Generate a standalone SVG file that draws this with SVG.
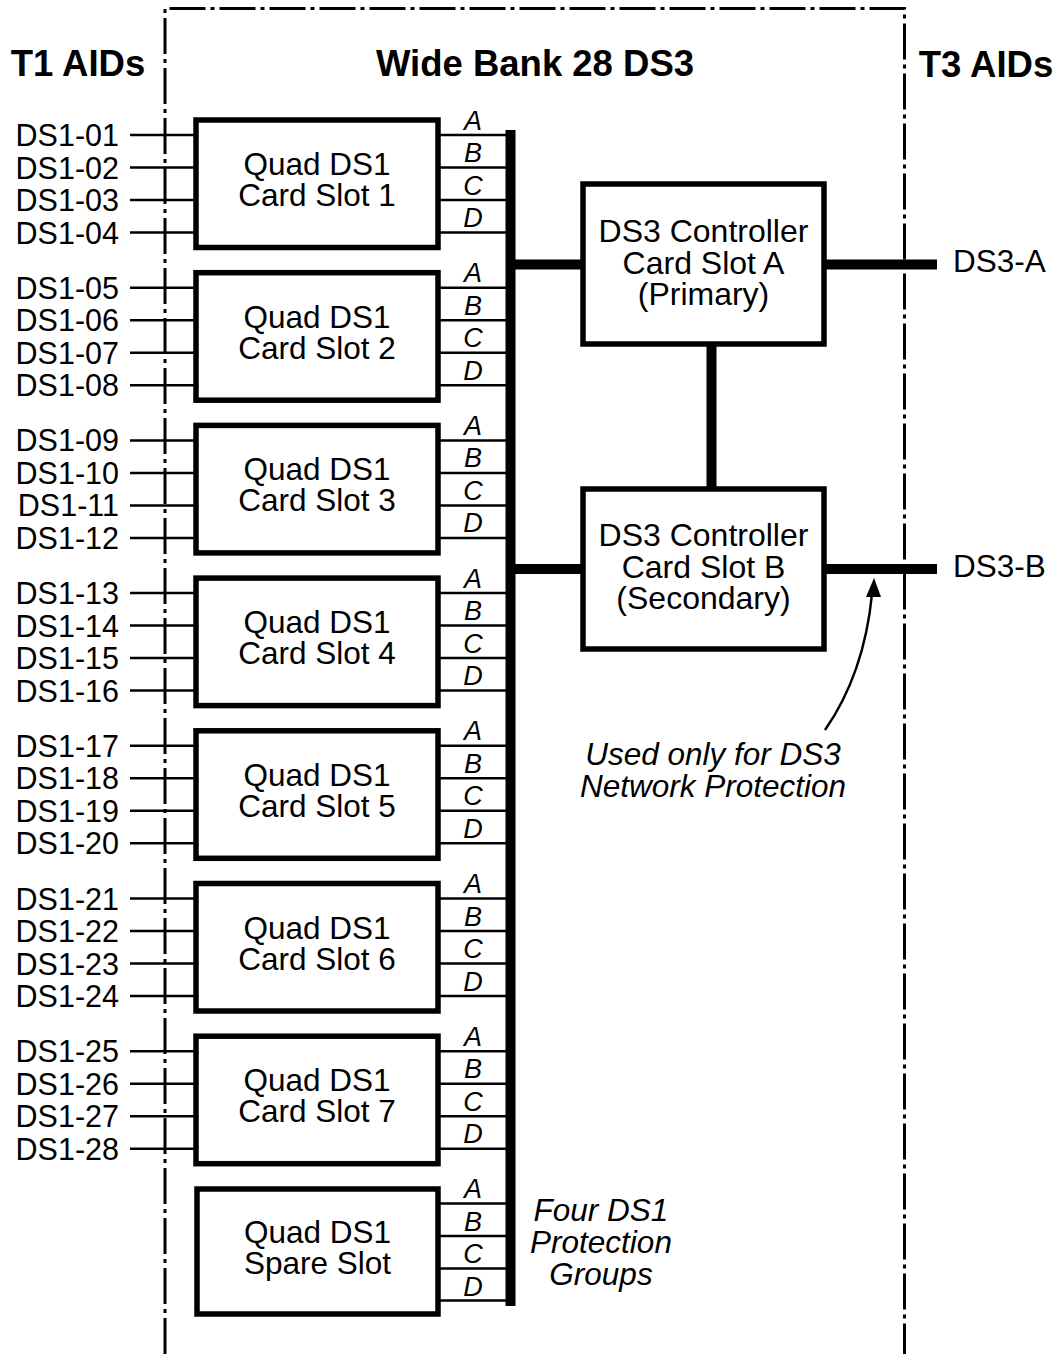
<svg xmlns="http://www.w3.org/2000/svg" width="1060" height="1354" viewBox="0 0 1060 1354">
<style>
text{font-family:"Liberation Sans",Arial,sans-serif;fill:#000}
.t{font-size:36.5px;font-weight:bold;text-anchor:middle}
.l{font-size:30.5px;text-anchor:end}
.c{font-size:31.5px;text-anchor:middle}
.k{font-size:32px;text-anchor:middle}
.r{font-size:31.5px;text-anchor:start}
.i{font-size:27px;font-style:italic;text-anchor:middle}
.n{font-size:31.5px;font-style:italic;text-anchor:middle}
.box{fill:#fff;stroke:#000;stroke-width:5.5}
.w{stroke:#000;stroke-width:2.5;fill:none}
.h{stroke:#000;stroke-width:10;fill:none}
.dd{stroke:#000;stroke-width:3;fill:none;stroke-dasharray:36 5 4 5}
</style>
<defs>
<g id="abcd">
<text class="i" x="473" y="129.5">A</text>
<text class="i" x="473" y="162">B</text>
<text class="i" x="473" y="194.5">C</text>
<text class="i" x="473" y="227">D</text>
</g>
</defs>
<g id="frame">
<path class="dd" d="M165,1354 V8.5 H904.5 V1354"/>
</g>
<g id="titles">
<text class="t" x="78" y="76">T1 AIDs</text>
<text class="t" x="535" y="76">Wide Bank 28 DS3</text>
<text class="t" x="986" y="77">T3 AIDs</text>
</g>
<g id="connectors">
<g class="w">
<path d="M130,135H196M130,167.5H196M130,200H196M130,232.5H196"/>
<path d="M130,287.7H196M130,320.2H196M130,352.7H196M130,385.2H196"/>
<path d="M130,440.4H196M130,472.9H196M130,505.4H196M130,537.9H196"/>
<path d="M130,593.1H196M130,625.6H196M130,658.1H196M130,690.6H196"/>
<path d="M130,745.8H196M130,778.3H196M130,810.8H196M130,843.3H196"/>
<path d="M130,898.5H196M130,931H196M130,963.5H196M130,996H196"/>
<path d="M130,1051.2H196M130,1083.7H196M130,1116.2H196M130,1148.7H196"/>
<path d="M438,135H506M438,167.5H506M438,200H506M438,232.5H506"/>
<path d="M438,287.7H506M438,320.2H506M438,352.7H506M438,385.2H506"/>
<path d="M438,440.4H506M438,472.9H506M438,505.4H506M438,537.9H506"/>
<path d="M438,593.1H506M438,625.6H506M438,658.1H506M438,690.6H506"/>
<path d="M438,745.8H506M438,778.3H506M438,810.8H506M438,843.3H506"/>
<path d="M438,898.5H506M438,931H506M438,963.5H506M438,996H506"/>
<path d="M438,1051.2H506M438,1083.7H506M438,1116.2H506M438,1148.7H506"/>
<path d="M438,1203.6H506M438,1236H506M438,1268.5H506M438,1300.5H506"/>
</g>
<path class="h" d="M510.5,130V1306"/>
<path class="h" d="M510.5,264.5H583M824,264.5H937"/>
<path class="h" d="M510.5,569H583M824,569H937"/>
<path class="h" d="M711.5,344V489"/>
<path class="w" d="M825,730 C848,697 866,655 872,594"/>
<polygon points="874,578 866,597 881,597" fill="#000"/>
</g>
<g id="ds1-labels">
<text class="l" x="119" y="146">DS1-01</text>
<text class="l" x="119" y="178.5">DS1-02</text>
<text class="l" x="119" y="211">DS1-03</text>
<text class="l" x="119" y="243.5">DS1-04</text>
<text class="l" x="119" y="298.7">DS1-05</text>
<text class="l" x="119" y="331.2">DS1-06</text>
<text class="l" x="119" y="363.7">DS1-07</text>
<text class="l" x="119" y="396.2">DS1-08</text>
<text class="l" x="119" y="451.4">DS1-09</text>
<text class="l" x="119" y="483.9">DS1-10</text>
<text class="l" x="119" y="516.4">DS1-11</text>
<text class="l" x="119" y="548.9">DS1-12</text>
<text class="l" x="119" y="604.1">DS1-13</text>
<text class="l" x="119" y="636.6">DS1-14</text>
<text class="l" x="119" y="669.1">DS1-15</text>
<text class="l" x="119" y="701.6">DS1-16</text>
<text class="l" x="119" y="756.8">DS1-17</text>
<text class="l" x="119" y="789.3">DS1-18</text>
<text class="l" x="119" y="821.8">DS1-19</text>
<text class="l" x="119" y="854.3">DS1-20</text>
<text class="l" x="119" y="909.5">DS1-21</text>
<text class="l" x="119" y="942">DS1-22</text>
<text class="l" x="119" y="974.5">DS1-23</text>
<text class="l" x="119" y="1007">DS1-24</text>
<text class="l" x="119" y="1062.2">DS1-25</text>
<text class="l" x="119" y="1094.7">DS1-26</text>
<text class="l" x="119" y="1127.2">DS1-27</text>
<text class="l" x="119" y="1159.7">DS1-28</text>
</g>
<g id="card1">
<rect class="box" x="196" y="120" width="242" height="127.5"/>
<text class="c" x="317" y="175">Quad DS1</text>
<text class="c" x="317" y="206">Card Slot 1</text>
<use href="#abcd"/>
</g>
<g id="card2">
<rect class="box" x="196" y="272.7" width="242" height="127.5"/>
<text class="c" x="317" y="327.7">Quad DS1</text>
<text class="c" x="317" y="358.7">Card Slot 2</text>
<use href="#abcd" y="152.7"/>
</g>
<g id="card3">
<rect class="box" x="196" y="425.4" width="242" height="127.5"/>
<text class="c" x="317" y="480.4">Quad DS1</text>
<text class="c" x="317" y="511.4">Card Slot 3</text>
<use href="#abcd" y="305.4"/>
</g>
<g id="card4">
<rect class="box" x="196" y="578.1" width="242" height="127.5"/>
<text class="c" x="317" y="633.1">Quad DS1</text>
<text class="c" x="317" y="664.1">Card Slot 4</text>
<use href="#abcd" y="458.1"/>
</g>
<g id="card5">
<rect class="box" x="196" y="730.8" width="242" height="127.5"/>
<text class="c" x="317" y="785.8">Quad DS1</text>
<text class="c" x="317" y="816.8">Card Slot 5</text>
<use href="#abcd" y="610.8"/>
</g>
<g id="card6">
<rect class="box" x="196" y="883.5" width="242" height="127.5"/>
<text class="c" x="317" y="938.5">Quad DS1</text>
<text class="c" x="317" y="969.5">Card Slot 6</text>
<use href="#abcd" y="763.5"/>
</g>
<g id="card7">
<rect class="box" x="196" y="1036.2" width="242" height="127.5"/>
<text class="c" x="317" y="1091.2">Quad DS1</text>
<text class="c" x="317" y="1122.2">Card Slot 7</text>
<use href="#abcd" y="916.2"/>
</g>
<g id="spare">
<rect class="box" x="197" y="1189" width="241" height="125"/>
<text class="c" x="317.5" y="1242.5">Quad DS1</text>
<text class="c" x="317.5" y="1273.5">Spare Slot</text>
<use href="#abcd" y="1068.7"/>
</g>
<g id="ctrlA">
<rect class="box" x="583" y="184" width="241" height="160"/>
<text class="k" x="703.5" y="242">DS3 Controller</text>
<text class="k" x="703.5" y="274">Card Slot A</text>
<text class="k" x="703.5" y="305">(Primary)</text>
</g>
<g id="ctrlB">
<rect class="box" x="583" y="489" width="241" height="160"/>
<text class="k" x="703.5" y="546">DS3 Controller</text>
<text class="k" x="703.5" y="578">Card Slot B</text>
<text class="k" x="703.5" y="609">(Secondary)</text>
</g>
<g id="ds3-labels">
<text class="r" x="953" y="272">DS3-A</text>
<text class="r" x="953" y="577">DS3-B</text>
</g>
<g id="notes">
<text class="n" x="713" y="765">Used only for DS3</text>
<text class="n" x="713" y="797">Network Protection</text>
<text class="n" x="601" y="1221">Four DS1</text>
<text class="n" x="601" y="1253">Protection</text>
<text class="n" x="601" y="1285">Groups</text>
</g>
</svg>
